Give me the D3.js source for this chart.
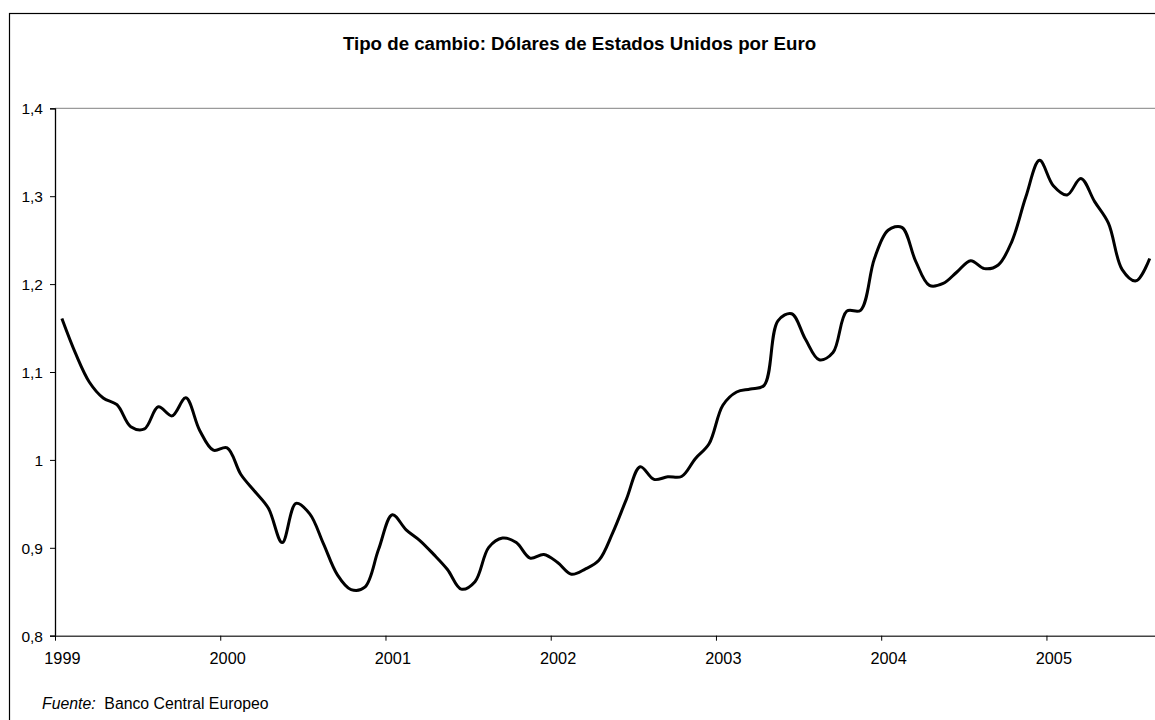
<!DOCTYPE html>
<html>
<head>
<meta charset="utf-8">
<script src="https://cdn.jsdelivr.net/npm/d3@7"></script>
<style>
  html, body { margin: 0; padding: 0; background: #fff; }
  svg { display: block; }
  text { font-family: "Liberation Sans", Arial, sans-serif; fill: #000; }
</style>
</head>
<body>
<svg id="chart" width="1155" height="720"></svg>
<script>
const titleText = "Tipo de cambio: Dólares de Estados Unidos por Euro";
const sourceLabel = "Fuente:";
const sourceText = "Banco Central Europeo";
const years = ["1999", "2000", "2001", "2002", "2003", "2004", "2005"];
const yTicks = [0.8, 0.9, 1.0, 1.1, 1.2, 1.3, 1.4];
// Monthly values, Jan 1999 - Aug 2005
const rates = [
  1.1608, 1.1208, 1.0883, 1.0704, 1.0628, 1.0378, 1.0353, 1.0604, 1.0501, 1.0706, 1.0338, 1.0110,
  1.0137, 0.9834, 0.9643, 0.9449, 0.9059, 0.9505, 0.9386, 0.9045, 0.8695, 0.8525, 0.8552, 0.8983,
  0.9376, 0.9205, 0.9083, 0.8925, 0.8753, 0.8530, 0.8615, 0.9005, 0.9111, 0.9059, 0.8883, 0.8924,
  0.8833, 0.8700, 0.8758, 0.8858, 0.9170, 0.9554, 0.9922, 0.9778, 0.9808, 0.9811, 1.0014, 1.0183,
  1.0622, 1.0773, 1.0807, 1.0848, 1.1582, 1.1663, 1.1372, 1.1139, 1.1222, 1.1692, 1.1702, 1.2286,
  1.2613, 1.2646, 1.2262, 1.1985, 1.2007, 1.2138, 1.2266, 1.2176, 1.2218, 1.2490, 1.2991, 1.3408,
  1.3119, 1.3014, 1.3201, 1.2938, 1.2694, 1.2165, 1.2037, 1.2292
];

const svg = d3.select("#chart");
const W = 1155, H = 720;
const plot = { left: 55, top: 108.3, bottom: 635.7, monthW: 13.77 };
const nCats = 80;

// outer frame
svg.append("rect").attr("x", 9.5).attr("y", 13.5).attr("width", W + 20).attr("height", H + 20)
  .attr("fill", "none").attr("stroke", "#000").attr("stroke-width", 1.2);

const x = d3.scaleLinear().domain([0, nCats]).range([plot.left, plot.left + nCats * plot.monthW]);
const y = d3.scaleLinear().domain([0.8, 1.4]).range([plot.bottom, plot.top]);

// gridline at 1.4
svg.append("line").attr("x1", plot.left).attr("x2", x(nCats)).attr("y1", y(1.4)).attr("y2", y(1.4))
  .attr("stroke", "#9a9a9a").attr("stroke-width", 1.3);

// y axis
const yAxis = d3.axisLeft(y).tickValues(yTicks).tickSize(5).tickPadding(7)
  .tickFormat(d => d3.format(".1f")(d).replace(/\.0$/, "").replace(".", ","));
const gy = svg.append("g").attr("transform", `translate(${plot.left},0)`).call(yAxis);
gy.select(".domain").attr("stroke", "#000").attr("stroke-width", 1.3);
gy.selectAll(".tick line").attr("stroke", "#000");
gy.selectAll("text").style("font-size", "15.5px").attr("fill", "#000").attr("dy", "0.35em");

// x axis (ticks between categories every 12 months)
const xAxis = d3.axisBottom(x).tickValues(years.map((_, i) => i * 12)).tickSize(5).tickPadding(12)
  .tickSizeOuter(0).tickFormat((d, i) => years[i]);
const gx = svg.append("g").attr("transform", `translate(0,${plot.bottom})`).call(xAxis);
gx.select(".domain").attr("stroke", "#444").attr("stroke-width", 1.6);
gx.selectAll(".tick line").attr("stroke", "#000");
gx.selectAll("text").style("font-size", "16.3px").attr("fill", "#000")
  .attr("x", x(0.5) - x(0));

// line
const line = d3.line()
  .x((d, i) => x(i + 0.5))
  .y(d => y(d))
  .curve(d3.curveCatmullRom.alpha(0.5));
svg.append("path").datum(rates).attr("d", line)
  .attr("fill", "none").attr("stroke", "#000").attr("stroke-width", 3)
  .attr("stroke-linejoin", "round");

// title
svg.append("text").attr("x", 579.5).attr("y", 50).attr("text-anchor", "middle")
  .style("font-size", "18.7px").style("font-weight", "bold").text(titleText);

// source
const src = svg.append("text").attr("x", 42).attr("y", 709).style("font-size", "15.8px");
src.append("tspan").style("font-style", "italic").text(sourceLabel);
src.append("tspan").text("\u00a0\u00a0" + sourceText);
</script>
</body>
</html>
